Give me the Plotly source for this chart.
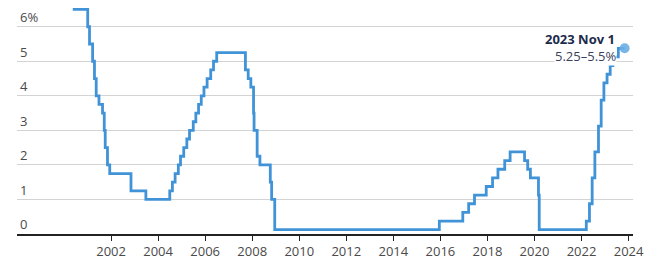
import plotly.graph_objects as go

# Federal funds target rate (midpoint of target range), step dates
dates = [
    "2000-05-16", "2001-01-03", "2001-01-31", "2001-03-20", "2001-04-18", "2001-05-15",
    "2001-06-27", "2001-08-21", "2001-09-17", "2001-10-02", "2001-11-06", "2001-12-11",
    "2002-11-06", "2003-06-25", "2004-06-30", "2004-08-10", "2004-09-21", "2004-11-10",
    "2004-12-14", "2005-02-02", "2005-03-22", "2005-05-03", "2005-06-30", "2005-08-09",
    "2005-09-20", "2005-11-01", "2005-12-13", "2006-01-31", "2006-03-28", "2006-05-10",
    "2006-06-29", "2007-09-18", "2007-10-31", "2007-12-11", "2008-01-22", "2008-01-30",
    "2008-03-18", "2008-04-30", "2008-10-08", "2008-10-29", "2008-12-16", "2015-12-16",
    "2016-12-14", "2017-03-15", "2017-06-14", "2017-12-13", "2018-03-21", "2018-06-13",
    "2018-09-26", "2018-12-19", "2019-07-31", "2019-09-18", "2019-10-30", "2020-03-03",
    "2020-03-15", "2022-03-16", "2022-05-04", "2022-06-15", "2022-07-27", "2022-09-21",
    "2022-11-02", "2022-12-14", "2023-02-01", "2023-03-22", "2023-05-03", "2023-07-26",
    "2023-11-01",
]
rates = [
    6.5, 6.0, 5.5, 5.0, 4.5, 4.0,
    3.75, 3.5, 3.0, 2.5, 2.0, 1.75,
    1.25, 1.0, 1.25, 1.5, 1.75, 2.0,
    2.25, 2.5, 2.75, 3.0, 3.25, 3.5,
    3.75, 4.0, 4.25, 4.5, 4.75, 5.0,
    5.25, 4.75, 4.5, 4.25, 3.5, 3.0,
    2.25, 2.0, 1.5, 1.0, 0.125, 0.375,
    0.625, 0.875, 1.125, 1.375, 1.625, 1.875,
    2.125, 2.375, 2.125, 1.875, 1.625, 1.125,
    0.125, 0.375, 0.875, 1.625, 2.375, 3.125,
    3.875, 4.375, 4.625, 4.875, 5.125, 5.375,
    5.375,
]

last_date = "2023-11-01"
last_rate = 5.375
label_title = "2023 Nov 1"
label_value = "5.25–5.5%"

year_ticks = [f"{y}-01-01" for y in range(2002, 2025, 2)]
year_labels = [str(y) for y in range(2002, 2025, 2)]
y_ticks = [0, 1, 2, 3, 4, 5, 6]
y_labels = ["0", "1", "2", "3", "4", "5", "6%"]

FONT = "Open Sans"

fig = go.Figure()
fig.add_trace(go.Scatter(
    x=dates, y=rates, mode="lines", line=dict(color="#4193d8", width=2.8, shape="hv"),
    hoverinfo="skip", showlegend=False,
))
fig.add_trace(go.Scatter(
    x=[last_date], y=[last_rate], mode="markers",
    marker=dict(size=10, color="#6aaee6", opacity=0.9),
    hoverinfo="skip", showlegend=False, cliponaxis=False,
))

fig.add_annotation(
    x=last_date, y=5.64, xref="x", yref="y", text=f"<b>{label_title}</b>",
    showarrow=False, xanchor="right", yanchor="middle", xshift=-8,
    font=dict(family=FONT, size=13, color="#1c2b4b"),
)
fig.add_annotation(
    x=last_date, y=5.15, xref="x", yref="y", text=label_value,
    showarrow=False, xanchor="right", yanchor="middle", xshift=-8,
    bgcolor="white", borderpad=0,
    font=dict(family=FONT, size=13, color="#3b3f5c"),
)

fig.update_layout(
    width=658, height=269,
    margin=dict(l=17, r=25, t=6, b=35),
    paper_bgcolor="white", plot_bgcolor="white",
    font=dict(family=FONT, size=13, color="#4a4a4a"),
    xaxis=dict(
        type="date", range=["1998-01-01", "2024-03-10"],
        tickvals=year_ticks, ticktext=year_labels,
        showgrid=False, showline=True, linecolor="#222222", linewidth=1.5,
        ticks="outside", ticklen=5, tickcolor="#222222", tickwidth=1.2,
        tickfont=dict(family=FONT, size=13, color="#4a4a4a"),
        zeroline=False, fixedrange=True,
    ),
    yaxis=dict(
        range=[0, 6.6], tickvals=y_ticks, ticktext=y_labels,
        ticklabelposition="inside top", showgrid=True, gridcolor="#d3d3d3", gridwidth=1,
        zeroline=False, showline=False, ticks="",
        tickfont=dict(family=FONT, size=13, color="#4a4a4a"),
        fixedrange=True,
    ),
)

fig.write_html("out.html")
